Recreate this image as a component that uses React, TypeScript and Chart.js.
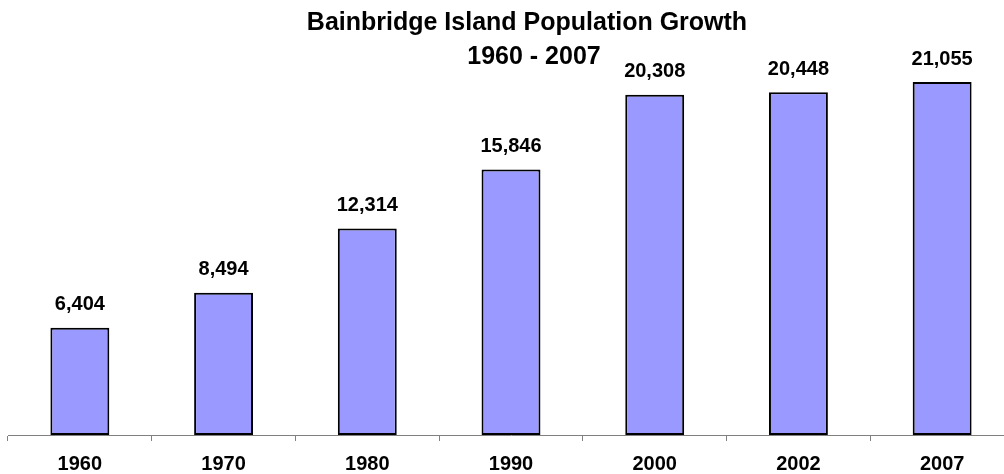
import React, { useEffect, useRef } from "react";
import { Chart, registerables } from "chart.js";

Chart.register(...registerables);

const years = ["1960", "1970", "1980", "1990", "2000", "2002", "2007"];
const population = [6404, 8494, 12314, 15846, 20308, 20448, 21055];
const titleLines = ["Bainbridge Island Population Growth", "1960 - 2007"];

const FONT = '"Liberation Sans", Arial, Helvetica, sans-serif';

const titlePlugin = {
  id: "overlayTitle",
  afterDraw(chart: any) {
    const ctx = chart.ctx;
    ctx.save();
    ctx.fillStyle = "#000";
    ctx.font = `bold 25px ${FONT}`;
    ctx.textAlign = "center";
    ctx.textBaseline = "middle";
    ctx.fillText(titleLines[0], 527, 23);
    ctx.fillText(titleLines[1], 534, 57);
    ctx.restore();
  },
};

const labelPlugin = {
  id: "barValues",
  afterDatasetsDraw(chart: any) {
    const ctx = chart.ctx;
    const meta = chart.getDatasetMeta(0);
    ctx.save();
    ctx.fillStyle = "#000";
    ctx.font = `bold 20px ${FONT}`;
    ctx.textAlign = "center";
    ctx.textBaseline = "middle";
    meta.data.forEach((el: any, i: number) => {
      const v = chart.data.datasets[0].data[i] as number;
      ctx.fillText(v.toLocaleString("en-US"), el.x, el.y - 23);
    });
    ctx.restore();
  },
};

export default function App() {
  const ref = useRef<HTMLCanvasElement | null>(null);
  useEffect(() => {
    if (!ref.current) return;
    const chart = new Chart(ref.current, {
      type: "bar",
      data: {
        labels: years,
        datasets: [
          {
            data: population,
            backgroundColor: "#9999FF",
            borderColor: "#000000",
            borderWidth: 2,
            borderSkipped: false,
            barPercentage: 0.41,
            categoryPercentage: 1,
          },
        ],
      },
      options: {
        responsive: false,
        animation: false,
        layout: { padding: { left: 8, right: 2, top: 16, bottom: 0 } },
        plugins: {
          legend: { display: false },
          title: { display: false },
          tooltip: { enabled: false },
        },
        scales: {
          x: {
            grid: {
              display: true,
              drawOnChartArea: false,
              drawTicks: true,
              tickLength: 6,
              color: "#808080",
              offset: true,
            },
            border: { display: true, color: "#808080", width: 1 },
            ticks: {
              color: "#000",
              font: { family: FONT, size: 20, weight: "bold" },
              padding: 11,
              maxRotation: 0,
            },
            afterFit(scale: any) {
              scale.height = 39;
            },
          },
          y: {
            display: false,
            min: 0,
            max: 25000,
          },
        },
      },
      plugins: [labelPlugin, titlePlugin],
    });
    return () => chart.destroy();
  }, []);
  return (
    <div
      style={{
        position: "absolute",
        left: 0,
        top: 0,
        width: 1004,
        height: 474,
        overflow: "hidden",
        background: "#fff",
      }}
    >
      <canvas ref={ref} width={1016} height={474} style={{ display: "block" }} />
    </div>
  );
}
